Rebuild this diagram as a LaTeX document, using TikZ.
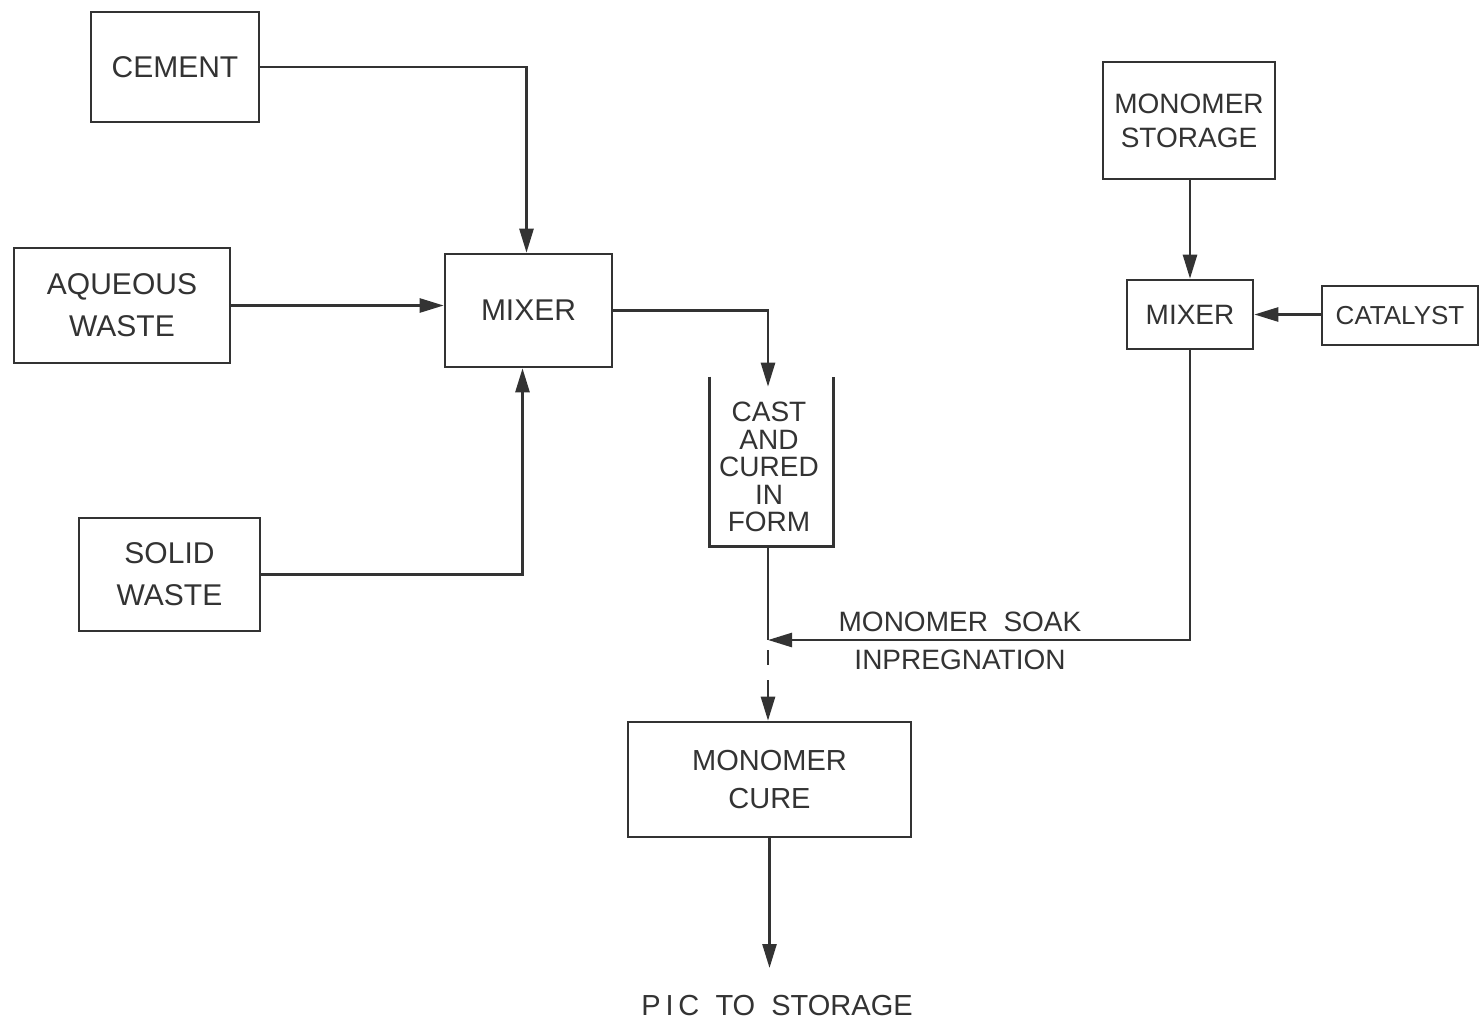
\documentclass[tikz,border=0pt]{standalone}
\usepackage{fontspec}
\setmainfont{Liberation Sans}
\usetikzlibrary{arrows.meta,calc}
\begin{document}
\begin{tikzpicture}[x=1pt,y=-1pt,
  line width=2.6pt, draw=black!80, text=black!80,
  blk/.style={draw, rectangle, inner sep=0pt, align=center,
    font=\fontsize{30}{42}\selectfont},
  arr/.style={-{Triangle[length=24pt,width=14pt]}},
  lbl/.style={align=center, font=\fontsize{28}{38}\selectfont}]
\useasboundingbox (0,0) rectangle (1480,1025);
\fill[white] (0,0) rectangle (1480,1025);

\node[blk, minimum width=168pt, minimum height=110pt] (cement) at (175,67) {CEMENT};
\node[blk, minimum width=216pt, minimum height=115pt] (aqueous) at (122,305.5) {AQUEOUS\\WASTE};
\node[blk, minimum width=181pt, minimum height=113pt] (solid) at (169.5,574.5) {SOLID\\WASTE};
\node[blk, minimum width=167pt, minimum height=113pt] (mixer1) at (528.5,310.5) {MIXER};
\node[inner sep=0pt, minimum width=121pt, minimum height=167pt, align=center,
  font=\fontsize{28}{28}\selectfont] (form) at (771.5,461.5) {};
\node[align=center, inner sep=0pt, font=\fontsize{28}{27.5}\selectfont] (formtext) at (769,467) {CAST\\AND\\CURED\\IN\\FORM};
\draw (form.north west) -- (form.south west) -- (form.south east) -- (form.north east);
\node[blk, minimum width=172pt, minimum height=117pt, font=\fontsize{28}{34}\selectfont] (mstorage) at (1189,120.5) {MONOMER\\STORAGE};
\node[blk, minimum width=126pt, minimum height=69pt, font=\fontsize{28}{34}\selectfont] (mixer2) at (1190,314.5) {MIXER};
\node[blk, minimum width=156pt, minimum height=59pt, font=\fontsize{26}{34}\selectfont] (catalyst) at (1400,315.5) {CATALYST};
\node[blk, minimum width=283pt, minimum height=115pt, font=\fontsize{29}{38}\selectfont] (cure) at (769.5,779.5) {MONOMER\\CURE};
\node[font=\fontsize{29}{36}\selectfont, inner sep=0pt] (pic) at (777,1006) {P\,I\,C\ \ TO\ \ STORAGE};
\node[lbl] (soak) at (960,641) {MONOMER\ \ SOAK\\INPREGNATION};

\coordinate (j) at (768,640);
\coordinate (pend) at (769.5,968);

\draw[arr] (cement.east) -| ([xshift=-2pt]mixer1.north);
\draw[arr] (aqueous.east) -- (aqueous.east -| mixer1.west);
\draw[arr] (solid.east) -| ([xshift=-6pt]mixer1.south);
\draw[arr] (mixer1.east) -| ([xshift=-3.5pt,yshift=-10pt]form.north);
\draw ([xshift=-3.5pt]form.south) -- ([xshift=-3.5pt]form.south |- j);
\draw[arr] (mixer2.south) |- (j);
\draw ($(j)+(0,10)$) -- ($(j)+(0,25)$);
\draw[arr] ($(j)+(0,40)$) -- (j |- cure.north);
\draw[arr] (mixer2.north |- mstorage.south) -- (mixer2.north);
\draw[arr] (catalyst.west |- mixer2.east) -- (mixer2.east);
\draw[arr] (cure.south) -- (pend);
\end{tikzpicture}
\end{document}
